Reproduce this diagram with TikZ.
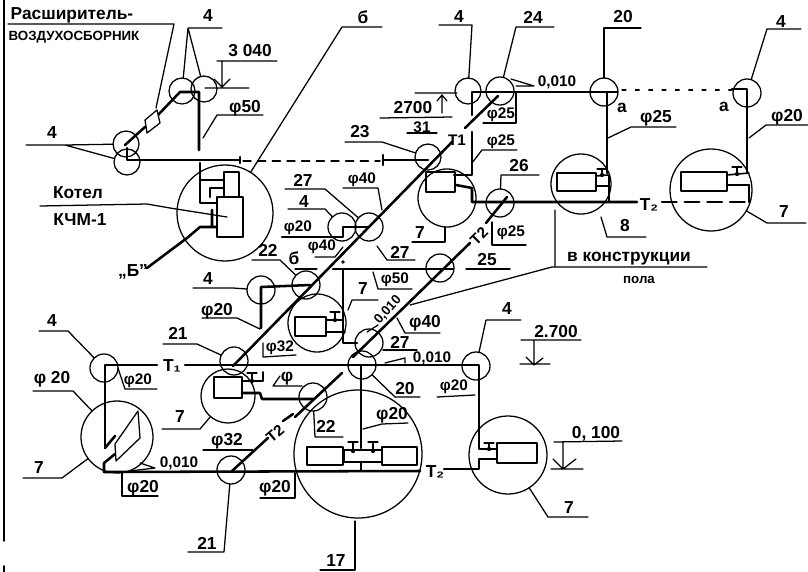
\documentclass[tikz,border=0pt]{standalone}
\usepackage{fontspec}
\setmainfont{Liberation Sans}
\begin{document}
\begin{tikzpicture}[x=0.75pt,y=-0.75pt,line cap=round,line join=round,
  thin line/.style={line width=0.95pt},
  pipe/.style={line width=1.9pt},
  dimline/.style={line width=0.95pt},
  ring/.style={circle,draw,line width=0.95pt,inner sep=0pt,outer sep=0pt},
  lbl/.style={inner sep=0pt,font=\bfseries\fontsize{13}{13}\selectfont},
  lbs/.style={inner sep=0pt,font=\bfseries\fontsize{11.5}{11.5}\selectfont},
  lbb/.style={inner sep=0pt,font=\bfseries\fontsize{10}{10}\selectfont},
  unit/.style={draw,line width=1.1pt}]
\useasboundingbox (0,0) rectangle (808,572);
\newcommand{\ring}[4]{\node[ring,minimum size=#4*1.5pt] (#1) at (#2,#3) {};}
\newcommand{\valve}[3]{\draw[thin line] (#1,#2) -- (#1,#3) (#1-5,#2) -- (#1+5,#2); \fill (#1,#3) circle (1.6pt);}
% frame
\draw[line width=1.4pt] (4,0) -- (4,541) (4,566) -- (4,572);
% rings
\ring{ca}{182}{91}{13}\ring{cb}{204}{89}{13}\ring{cc}{126}{144}{13}\ring{cd}{127}{162}{13}
\ring{boil}{225}{213}{48}\ring{ce}{342}{227}{14}\ring{cf}{369}{227}{14}
\ring{cg}{306}{285}{14}\ring{ch}{261}{290}{14}\ring{ci}{317}{323}{29}
\ring{cj}{440}{268}{14}\ring{ck}{369}{343}{14}\ring{cl}{362}{365}{14}
\ring{cm}{234}{361}{14}\ring{cn}{228}{396}{27}\ring{co}{104}{368}{14}
\ring{cp}{117}{437}{36}\ring{cq}{313}{397}{14}\ring{cr}{231}{470}{14}
\ring{big}{358}{454}{64}\ring{cs}{476}{366}{14}\ring{ct}{508}{455}{39}
\ring{cu}{468}{91}{13}\ring{cv}{500}{91}{14}\ring{cw}{604}{92}{14}
\ring{cx}{747}{93}{14}\ring{cy}{581}{184}{30}\ring{cz}{711}{190}{41}
\ring{da}{447}{198}{29}\ring{db}{500}{203}{14}\ring{dc}{428}{157}{13}
% --- boiler group
\draw[pipe] (127,148) -- (127,160) -- (240,160) (240,157) -- (240,163);
\draw[pipe] (125,145) -- (145,127) (158,115) -- (180,92) -- (197,92) -- (199,92) -- (199,150);
\draw[thin line,fill=white] (145,120) -- (157,110) -- (160,123) -- (147,133) -- cycle;
\draw[pipe] (200,163) -- (200,203) -- (217,203) (200,180) -- (223,180) (210,197) -- (210,188) -- (223,188);
\draw[unit] (224,172) rectangle (239,197) (217,197) rectangle (243,237);
\draw[pipe] (212,210) -- (212,227) (217,227) -- (200,227) -- (187,238) -- (147,268);
\draw[line width=1.1pt,dash pattern=on 6pt off 5pt] (243,161) -- (380,161);
\draw[pipe] (383,155) -- (383,165) (383,160) -- (428,160);
% --- main diagonal T1
\draw[pipe] (498,96) -- (465,128) (452,142) -- (233,366);
% --- top loop
\draw[pipe] (472,115) -- (472,92) -- (617,92) (472,132) -- (472,175) -- (454,175);
\draw[pipe] (607,92) -- (607,173);
\draw[pipe] (456,185) -- (472,188) -- (472,202) -- (637,202);
\draw[thin line] (609,175) -- (609,202);
\draw[line width=0.8pt,dash pattern=on 3pt off 7pt] (622,90) -- (732,90);
\draw[pipe] (732,89) -- (747,89) -- (747,172);
\draw[pipe] (749,185) -- (749,202);
\draw[pipe,dash pattern=on 11pt off 6pt] (662,202) -- (747,202);
\draw[unit] (681,172) rectangle (727,191);
\draw[line width=1.2pt] (727,175) -- (749,173) (727,185) -- (749,185);
\valve{737}{167}{174}
\draw[unit] (557,173) rectangle (596,191);
\draw[line width=1.2pt] (596,176) -- (608,175) (596,186) -- (609,186);
\valve{602}{169}{175}
\draw[unit] (426,172) -- (426,192) -- (455,192) -- (455,172) -- cycle;
% --- T2 diagonals
\draw[pipe] (507,197) -- (486,223) (470,243) -- (353,357);
\draw[pipe] (333,269) -- (453,269);
\fill (343,262) circle (1.4pt);
\draw[pipe] (343,270) -- (343,343) -- (357,343);
% --- unit centre
\draw[unit] (295,317) rectangle (326,336);
\draw[line width=1.2pt] (326,320) -- (343,320) (326,332) -- (345,332);
\valve{335}{312}{320}
% --- small ring pipe
\draw[pipe] (310,285) -- (261,287) -- (261,328);
\draw[pipe] (282,237) -- (343,237) -- (343,227) -- (368,227);
% --- lower loop
\draw[pipe] (105,446) -- (105,365) -- (157,365) (185,365) -- (479,365) -- (479,449) -- (497,449);
\draw[pipe] (497,459) -- (479,459) -- (479,469) -- (444,469);
\draw[unit] (497,443) rectangle (537,463);
\valve{489}{443}{449}
\draw[pipe] (361,366) -- (361,448);
\draw[unit] (344,450) rectangle (382,462) (307,447) rectangle (343,465) (382,447) rectangle (417,465);
\valve{353}{442}{451}\valve{373}{442}{451}
\draw[line width=1.3pt] (361,462) -- (361,471);
\draw[pipe] (104,463) -- (104,472) -- (420,471);
\draw[pipe] (104,463) -- (115,454) (105,448) -- (115,436);
\draw[thin line,fill=white] (115,444) -- (138,411) -- (140,438) -- (116,461) -- cycle;
\draw[unit] (214,377) rectangle (242,398);
\draw[line width=1.2pt] (242,381) -- (263,381) -- (263,372);
\valve{252}{373}{381}
\draw[pipe] (242,393) -- (260,393) -- (262,399) -- (313,399);
\draw[pipe] (232,471) -- (268,438) (283,421) -- (293,414) (295,417) -- (342,373);
% --- labels and leaders
\node[inner sep=0pt,font=\bfseries\fontsize{13}{13}\selectfont] (t1) at (72,15) {Расширитель-};
\node[lbb] (t2) at (74,37) {ВОЗДУХОСБОРНИК};
\draw[thin line] (8,24) -- (174,24) -- (156,108);
\node[lbl] (n4a) at (208,16) {4};
\draw[thin line] (222,28) -- (188,28) -- (ca) (188,28) -- (cb);
\node[lbl] (d3040) at (250,51) {3 040};
\draw[dimline] (217,61) -- (277,61) (222,61) -- (222,87) (205,88) -- (249,88) (214,79) -- (222,87) -- (230,79);
\node[lbl] (f50a) at (245,108) {φ50};
\draw[thin line] (263,115) -- (217,115) -- (203,138);
\node[lbl] (n4b) at (52,133) {4};
\draw[thin line] (26,145) -- (65,145) -- (cc) (65,145) -- (cd);
\node[lbl] (kot) at (78,193) {Котел};
\node[lbl] (kum) at (80,220) {КЧМ-1};
\draw[thin line] (40,206) -- (147,204) -- (170,208) -- (227,217);
\node[lbl] (b1) at (363,17) {б};
\draw[thin line] (382,27) -- (342,27) -- (boil);
\node[lbl] (bb) at (133,272) {„Б"};
\node[lbl] (d27) at (413,108) {2700};
\draw[dimline] (415,93) -- (457,93) (442,113) -- (442,95) (437,101) -- (442,95) -- (447,101) (380,118) -- (452,117);
\node[lbs] (n31) at (422,127) {31};
\draw[thin line] (407,133) -- (437,133);
\node[lbl] (n23) at (360,132) {23};
\draw[thin line] (345,142) -- (382,142) -- (dc);
\node[lbs] (tt1) at (457,140) {T1};
\node[lbl] (n4c) at (459,17) {4};
\draw[thin line] (439,25) -- (472,25) -- (cu);
\node[lbl] (n24) at (533,17) {24};
\draw[thin line] (554,27) -- (516,27) -- (cv);
\node[lbs] (s1) at (557,82) {0,010};
\draw[thin line] (511,79) -- (534,86) -- (516,86);
\node[lbl] (n20) at (623,17) {20};
\draw[thin line] (641,28) -- (604,28) -- (cw);
\node[lbl] (n4d) at (781,22) {4};
\draw[thin line] (801,29) -- (767,29) -- (cx);
\node[lbs] (f25a) at (501,115) {φ25};
\draw[thin line] (483,123) -- (516,123) -- (516,93);
\node[lbl] (f25b) at (656,118) {φ25};
\draw[thin line] (676,127) -- (631,127) -- (608,138);
\node[lbl] (f20a) at (787,117) {φ20};
\draw[thin line] (808,125) -- (766,125) -- (749,138);
\node[lbl] (aa) at (622,108) {а};
\node[lbl] (ab) at (724,107) {а};
\node[lbs] (f25c) at (501,142) {φ25};
\draw[thin line] (517,150) -- (482,150) -- (472,163);
\node[lbl] (n26) at (519,166) {26};
\draw[thin line] (539,175) -- (501,175) -- (db);
\node[lbl] (tb) at (649,205) {T₂};
\node[lbl] (n8) at (625,226) {8};
\draw[thin line] (646,237) -- (607,237) -- (601,217);
\node[lbl] (n7a) at (784,212) {7};
\draw[thin line] (806,223) -- (767,223) -- (cz);
\node[lbl] (n7b) at (420,233) {7};
\draw[thin line] (412,242) -- (445,242) -- (445,227);
\node[lbs,rotate=45] (tf) at (479,236) {T2};
\node[lbs] (f25d) at (511,233) {φ25};
\draw[thin line] (526,245) -- (492,245) -- (492,222);
\node[lbl] (n25) at (487,260) {25};
\draw[thin line] (510,269) -- (466,269);
\node[lbl] (kon) at (629,259) {в конструкции};
\node[lbb] (pol) at (639,280) {пола};
\draw[thin line] (555,210) -- (555,267) (707,267) -- (552,267) -- (410,305);
\node[lbs] (f40a) at (362,180) {φ40};
\draw[thin line] (343,188) -- (378,188) -- (382,210);
\node[lbl] (n27a) at (303,180) {27};
\draw[thin line] (285,189) -- (325,189) -- (cf);
\node[lbl] (n4e) at (304,202) {4};
\draw[thin line] (288,209) -- (325,209) -- (ce);
\node[lbs] (f20b) at (298,228) {φ20};
\node[lbs] (f40b) at (322,247) {φ40};
\draw[thin line] (315,257) -- (335,257) -- (343,247);
\node[lbl] (n27b) at (400,252) {27};
\draw[thin line] (415,260) -- (387,260) -- (377,246);
\node[lbl] (n22a) at (268,250) {22};
\draw[thin line] (252,260) -- (280,260) -- (cg);
\node[lbl] (bs) at (294,258) {б};
\draw[thin line] (295,269) -- (317,269);
\node[lbl] (n4f) at (208,279) {4};
\draw[thin line] (193,288) -- (233,288) -- (ch);
\node[lbs] (f50b) at (395,280) {φ50};
\draw[thin line] (412,289) -- (378,289) -- (373,272);
\node[lbl] (n7c) at (363,289) {7};
\draw[thin line] (378,300) -- (352,300) -- (348,310);
\node[lbs] (f32a) at (280,348) {φ32};
\draw[thin line] (263,343) -- (263,357) -- (296,355);
\node[lbl] (n21a) at (178,333) {21};
\draw[thin line] (163,344) -- (197,344) -- (cm);
\node[lbl] (f20c) at (217,311) {φ20};
\draw[thin line] (202,318) -- (237,318) -- (260,329);
\node[lbl] (n4g) at (52,321) {4};
\draw[thin line] (39,331) -- (68,331) -- (co);
\node[lbs] (f20d) at (138,381) {φ20};
\draw[thin line] (157,389) -- (125,389) -- (118,368);
\node[lbl] (tc) at (172,366) {T₁};
\node[lbl] (phi) at (287,379) {φ};
\draw[thin line] (302,386) -- (273,386) -- (280,376);
\node[lbl] (f20e) at (52,379) {φ 20};
\draw[thin line] (33,391) -- (73,391) -- (cp);
\node[lbl] (n7d) at (180,417) {7};
\draw[thin line] (162,429) -- (200,429) -- (cn);
\node[lbl] (n7e) at (39,468) {7};
\draw[thin line] (23,478) -- (62,478) -- (cp);
\node[lbs] (s2) at (179,463) {0,010};
\draw[thin line] (130,471) -- (155,468) -- (140,463);
\node[lbl] (f20f) at (143,488) {φ20};
\draw[thin line] (158,496) -- (122,496) -- (122,473);
\node[lbl] (f32b) at (227,441) {φ32};
\draw[thin line] (203,450) -- (253,450);
\node[lbs,rotate=40] (td) at (275,434) {T2};
\node[lbl] (n22b) at (326,426) {22};
\draw[thin line] (343,437) -- (315,437) -- (cq);
\node[lbl] (f20g) at (275,488) {φ20};
\draw[thin line] (260,498) -- (295,498) -- (295,473);
\node[lbl] (n21b) at (207,543) {21};
\draw[thin line] (188,552) -- (224,552) -- (cr);
\node[lbl] (n17) at (336,561) {17};
\draw[thin line] (320,570) -- (355,570) -- (355,521);
\node[lbl] (n20b) at (405,389) {20};
\draw[thin line] (420,397) -- (395,397) -- (cl);
\node[lbl] (f20h) at (392,415) {φ20};
\draw[thin line] (408,423) -- (382,424) -- (363,429);
\node[lbs] (f20i) at (454,387) {φ20};
\draw[thin line] (437,397) -- (475,395);
\node[lbl] (n27c) at (400,342) {27};
\draw[thin line] (383,350) -- (417,350);
\node[lbl] (f40c) at (425,323) {φ40};
\draw[thin line] (440,333) -- (405,333) -- (397,318);
\node[lbs] (s3) at (432,358) {0,010};
\draw[thin line] (385,363) -- (405,358) -- (405,363);
\node[lbb,rotate=48] (s4) at (388,310) {0,010};
\draw[thin line] (367,332) -- (378,325);
\node[lbl] (d2700) at (556,332) {2.700};
\draw[dimline] (521,340) -- (581,340) (534,340) -- (534,365) (520,364) -- (550,364) (526,357) -- (534,365) -- (543,358);
\node[lbl] (d100) at (596,434) {0, 100};
\draw[dimline] (554,442) -- (622,441) (563,442) -- (563,469) (551,469) -- (583,469) (553,459) -- (563,469) -- (576,459);
\node[lbl] (n7f) at (569,508) {7};
\draw[thin line] (588,517) -- (548,517) -- (ct);
\node[lbl] (n4h) at (507,309) {4};
\draw[thin line] (521,320) -- (486,320) -- (cs);
\node[lbl] (te) at (435,472) {T₂};
\end{tikzpicture}
\end{document}
